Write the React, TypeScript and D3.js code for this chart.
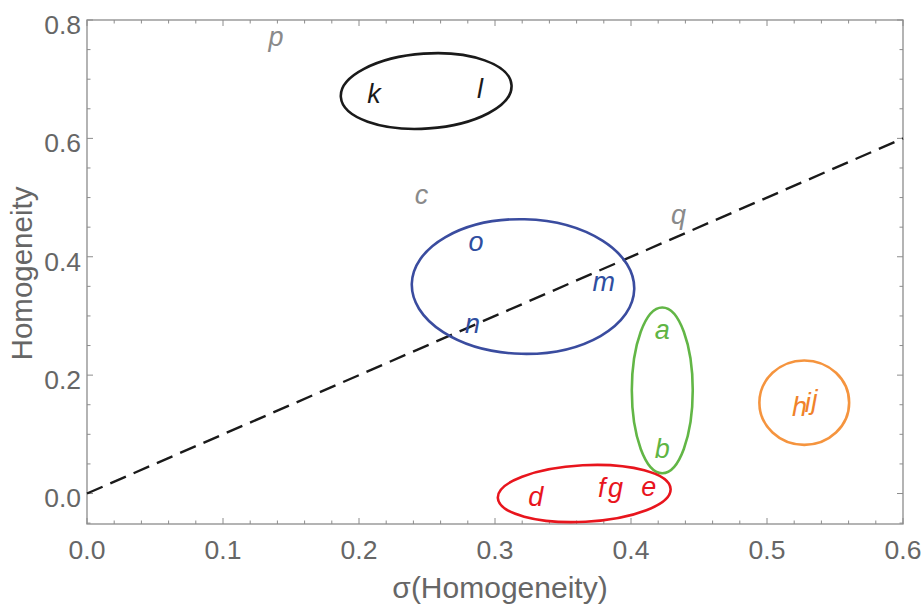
import React from "react";
import * as d3 from "d3";

// Labelled points: name, x = σ(Homogeneity), y = Homogeneity, group
const pointNames = ["p", "k", "l", "c", "q", "o", "m", "n", "a", "b", "h", "i", "j", "d", "f", "g", "e"];
const pointX = [0.139, 0.211, 0.289, 0.246, 0.435, 0.286, 0.38, 0.2835, 0.423, 0.423, 0.524, 0.53, 0.535, 0.33, 0.3785, 0.3886, 0.413];
const pointY = [0.771, 0.675, 0.684, 0.5035, 0.471, 0.4247, 0.357, 0.2867, 0.2755, 0.0755, 0.147, 0.1527, 0.158, -0.006, 0.009, 0.009, 0.011];
const pointGroup = ["none", "black", "black", "none", "none", "blue", "blue", "blue", "green", "green", "orange", "orange", "orange", "red", "red", "red", "red"];

// Cluster ellipses: centre, semi-axes (data units), tilt in degrees
const ellipseGroup = ["black", "blue", "green", "orange", "red"];
const ellipseCx = [0.2494, 0.3206, 0.423, 0.5274, 0.3656];
const ellipseCy = [0.68, 0.3497, 0.1743, 0.1535, 0.0];
const ellipseRx = [0.0629, 0.0818, 0.0224, 0.033, 0.0636];
const ellipseRy = [0.0633, 0.1137, 0.14, 0.0713, 0.0478];
const ellipseAngle = [-4, 1.4, 0, 0, -3];

// Reference line y = x
const refLineX = [0, 0.6];

const xTicks = [0, 0.1, 0.2, 0.3, 0.4, 0.5, 0.6];
const yTicks = [0, 0.2, 0.4, 0.6, 0.8];

const strokeColors: Record<string, string> = {
  black: "#1a1a1a",
  blue: "#3a4c9f",
  green: "#62b646",
  orange: "#f5943e",
  red: "#e8151d",
};
const textColors: Record<string, string> = {
  none: "#8a8a8a",
  black: "#1a1a1a",
  blue: "#2f4ea0",
  green: "#5fb544",
  orange: "#f0822a",
  red: "#e8151d",
};

const W = 924;
const H = 606;
const frame = { left: 87, right: 903, top: 20, bottom: 524 };
const FONT = "'Liberation Sans', Arial, Helvetica, sans-serif";

export default function App() {
  const x = d3.scaleLinear().domain([0, 0.6]).range([frame.left, frame.right]);
  const y = d3.scaleLinear().domain([-0.0515, 0.8]).range([frame.bottom, frame.top]);

  const xMinor = d3.range(0, 0.6001, 0.02);
  const yMinor = d3.range(-0.05, 0.8001, 0.05);
  const isMajor = (v: number, step: number) => Math.abs(v / step - Math.round(v / step)) < 1e-6;

  const frameColor = "#8c8c8c";
  const labelColor = "#666666";
  const majorLen = 6;
  const minorLen = 3.5;

  const line = d3
    .line<number>()
    .x((d) => x(d))
    .y((d) => y(d));

  return (
    <svg
      width={W}
      height={H}
      style={{ position: "absolute", left: 0, top: 0, background: "#fff" }}
      fontFamily={FONT}
    >
      {/* frame ticks */}
      <g stroke={frameColor} strokeWidth={1}>
        {xMinor.map((v, i) => {
          const len = isMajor(v, 0.1) ? majorLen : minorLen;
          const px = x(v);
          return (
            <g key={"xt" + i}>
              <line x1={px} x2={px} y1={frame.bottom} y2={frame.bottom - len} />
              <line x1={px} x2={px} y1={frame.top} y2={frame.top + len} />
            </g>
          );
        })}
        {yMinor.map((v, i) => {
          const len = isMajor(v, 0.2) ? majorLen : minorLen;
          const py = y(v);
          return (
            <g key={"yt" + i}>
              <line x1={frame.left} x2={frame.left + len} y1={py} y2={py} />
              <line x1={frame.right} x2={frame.right - len} y1={py} y2={py} />
            </g>
          );
        })}
      </g>
      <rect
        x={frame.left}
        y={frame.top}
        width={frame.right - frame.left}
        height={frame.bottom - frame.top}
        fill="none"
        stroke={frameColor}
        strokeWidth={1.3}
      />

      {/* tick labels */}
      <g fill={labelColor} fontSize={26.5}>
        {xTicks.map((v) => (
          <text key={"xl" + v} x={x(v)} y={559} textAnchor="middle">
            {v.toFixed(1)}
          </text>
        ))}
        {yTicks.map((v) => (
          <text key={"yl" + v} x={81} y={y(v) + 13.8} textAnchor="end">
            {v.toFixed(1)}
          </text>
        ))}
      </g>

      {/* axis titles */}
      <text x={(frame.left + frame.right) / 2 + 5} y={598} textAnchor="middle" fontSize={30} fill={labelColor}>
        σ(Homogeneity)
      </text>
      <text
        transform={`translate(32, 273.5) rotate(-90)`}
        textAnchor="middle"
        fontSize={29.5}
        fill={labelColor}
      >
        Homogeneity
      </text>

      {/* reference line */}
      <path
        d={line(refLineX) || ""}
        fill="none"
        stroke="#1a1a1a"
        strokeWidth={2.4}
        strokeDasharray="17 8.4"
      />

      {/* cluster ellipses */}
      <g fill="none" strokeWidth={2.6}>
        {ellipseGroup.map((g, i) => {
          const cx = x(ellipseCx[i]);
          const cy = y(ellipseCy[i]);
          const rx = x(ellipseRx[i]) - x(0);
          const ry = y(0) - y(ellipseRy[i]);
          return (
            <ellipse
              key={"el" + g}
              cx={cx}
              cy={cy}
              rx={rx}
              ry={ry}
              stroke={strokeColors[g]}
              transform={`rotate(${ellipseAngle[i]}, ${cx}, ${cy})`}
            />
          );
        })}
      </g>

      {/* point labels */}
      <g fontSize={27} fontStyle="italic" textAnchor="middle" dominantBaseline="central">
        {pointNames.map((n, i) => (
          <text key={"pt" + n} x={x(pointX[i])} y={y(pointY[i])} fill={textColors[pointGroup[i]]}>
            {n}
          </text>
        ))}
      </g>
    </svg>
  );
}
